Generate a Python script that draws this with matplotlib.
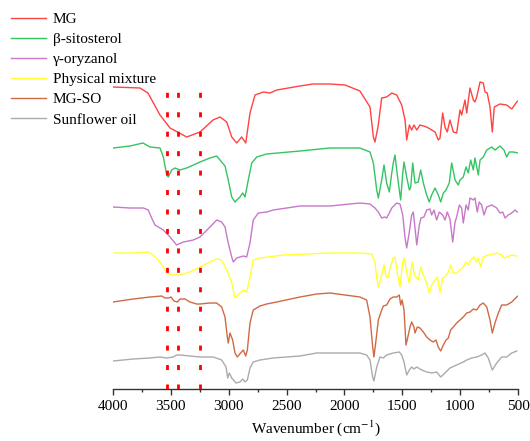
import matplotlib
matplotlib.use("Agg")
import matplotlib.pyplot as plt
from matplotlib.ticker import MultipleLocator

plt.rcParams['font.family'] = ['Liberation Serif', 'DejaVu Serif']
plt.rcParams['mathtext.fontset'] = 'stix'

# Stacked FTIR spectra (transmittance, vertically offset, arbitrary units)
mg_wn = [4000, 3767, 3698, 3594, 3507, 3363, 3248, 3136, 3075, 3017, 2974, 2931, 2888, 2853,
         2816, 2773, 2701, 2643, 2585, 2384, 2272, 2125, 1995, 1866, 1779, 1750, 1736, 1710,
         1678, 1635, 1591, 1548, 1505, 1476, 1462, 1439, 1419, 1399, 1375, 1347, 1289, 1246,
         1217, 1189, 1174, 1151, 1131, 1111, 1088, 1059, 1030, 1001, 987, 958, 943, 915, 886,
         872, 857, 828, 800, 785, 766, 742, 722, 705, 656, 598, 554, 511, 500]
mg_t = [302, 301, 296, 274, 261, 252, 257, 269, 272, 267, 252, 246, 252, 246,
        276, 294, 297, 296, 299, 303, 305, 305, 304, 298, 282, 252, 247, 262,
        291, 292, 296, 294, 284, 269, 249, 264, 259, 264, 259, 264, 262, 259,
        257, 249, 251, 276, 262, 257, 269, 257, 256, 279, 274, 289, 276, 301, 289,
        287, 292, 307, 306, 297, 296, 282, 257, 282, 285, 284, 280, 287, 288]

sito_wn = [4000, 3853, 3741, 3680, 3594, 3565, 3536, 3522, 3493, 3464, 3421, 3363, 3248, 3162,
           3104, 3075, 3032, 3004, 2974, 2946, 2903, 2879, 2859, 2831, 2801, 2758, 2672, 2384,
           2125, 1866, 1779, 1750, 1721, 1707, 1678, 1658, 1635, 1612, 1591, 1578, 1563, 1548,
           1526, 1514, 1496, 1485, 1462, 1439, 1427, 1410, 1390, 1362, 1341, 1318, 1289, 1267,
           1246, 1217, 1189, 1168, 1145, 1122, 1094, 1073, 1044, 1016, 1001, 973, 949, 930,
           909, 886, 872, 843, 828, 800, 770, 727, 699, 656, 621, 598, 575, 541, 500]
sito_t = [241, 243, 246, 242, 241, 232, 214, 212, 219, 221, 219, 221, 227, 231,
          233, 229, 223, 209, 192, 187, 192, 196, 192, 209, 226, 232, 235, 238,
          241, 241, 237, 226, 199, 191, 209, 224, 206, 197, 216, 226, 234, 219,
          199, 189, 216, 227, 212, 199, 202, 226, 206, 207, 219, 206, 194, 187,
          194, 201, 194, 187, 196, 199, 206, 226, 209, 204, 209, 212, 222, 216,
          229, 219, 231, 214, 229, 232, 239, 242, 239, 243, 239, 232, 237, 237, 236]

oryz_wn = [4000, 3853, 3738, 3695, 3666, 3637, 3565, 3507, 3450, 3392, 3306, 3248, 3162, 3104,
           3061, 3032, 3004, 2974, 2960, 2931, 2903, 2874, 2845, 2816, 2788, 2744, 2672, 2615,
           2499, 2384, 2125, 1866, 1779, 1736, 1707, 1678, 1650, 1635, 1612, 1591, 1548, 1520,
           1496, 1476, 1462, 1439, 1419, 1405, 1390, 1375, 1353, 1338, 1313, 1289, 1261, 1246,
           1226, 1203, 1180, 1151, 1131, 1111, 1088, 1064, 1044, 1030, 1007, 987, 973, 949,
           930, 915, 886, 872, 852, 835, 814, 794, 770, 727, 684, 656, 632, 612, 584, 554,
           526, 506]
oryz_t = [182, 181, 181, 179, 171, 164, 159, 152, 144, 147, 149, 152, 162, 169,
          167, 162, 146, 132, 127, 131, 132, 133, 132, 146, 169, 176, 177, 179,
          181, 183, 183, 186, 185, 181, 177, 171, 172, 171, 176, 181, 186, 185,
          174, 151, 141, 157, 174, 177, 161, 144, 164, 171, 172, 179, 180, 174,
          179, 169, 177, 174, 169, 177, 170, 147, 167, 172, 184, 181, 166, 184,
          179, 191, 189, 191, 177, 187, 184, 174, 182, 184, 181, 176, 177, 171, 174, 176,
          179, 177]

mix_wn = [4000, 3825, 3695, 3652, 3609, 3565, 3536, 3493, 3421, 3335, 3248, 3162, 3104, 3061,
          3017, 2989, 2974, 2946, 2903, 2874, 2845, 2816, 2788, 2730, 2528, 2125, 1866, 1764,
          1736, 1721, 1707, 1678, 1658, 1641, 1621, 1606, 1578, 1563, 1543, 1520, 1496, 1483,
          1462, 1439, 1427, 1413, 1396, 1362, 1341, 1318, 1289, 1267, 1246, 1217, 1197, 1174,
          1151, 1131, 1102, 1082, 1059, 1030, 1001, 973, 949, 930, 909, 880, 857, 843, 822,
          800, 757, 713, 684, 641, 621, 598, 554, 511]
mix_t = [136, 136, 137, 134, 129, 122, 116, 114, 114, 117, 122, 127, 130, 129,
         119, 111, 106, 91, 96, 99, 97, 112, 129, 131, 134, 136, 136, 135,
         127, 111, 102, 114, 124, 112, 112, 121, 131, 132, 116, 102, 127, 131,
         117, 106, 117, 127, 114, 109, 122, 114, 106, 96, 104, 109, 112, 97,
         111, 112, 117, 124, 116, 116, 119, 122, 127, 124, 129, 132, 127, 131, 122,
         132, 134, 135, 136, 134, 131, 132, 134, 133]

mgso_wn = [4000, 3825, 3680, 3579, 3551, 3522, 3499, 3473, 3444, 3421, 3378, 3335, 3277, 3248,
           3162, 3104, 3061, 3032, 3012, 3004, 2989, 2966, 2946, 2926, 2897, 2874, 2853, 2839,
           2816, 2788, 2730, 2672, 2585, 2384, 2240, 2125, 1866, 1808, 1779, 1756, 1745, 1727,
           1707, 1678, 1664, 1635, 1606, 1578, 1548, 1526, 1514, 1502, 1485, 1468, 1448, 1433,
           1419, 1399, 1390, 1370, 1347, 1318, 1289, 1261, 1232, 1209, 1189, 1168, 1145, 1122,
           1102, 1082, 1059, 1030, 1001, 973, 943, 915, 886, 857, 828, 800, 770, 742, 722,
           699, 670, 641, 598, 554, 511, 500]
mgso_t = [87, 90, 92, 93, 91, 91, 92, 88, 87, 90, 90, 87, 85, 85,
          86, 86, 82, 72, 52, 46, 56, 49, 36, 32, 36, 39, 33, 39,
          66, 79, 83, 85, 87, 92, 95, 96, 92, 89, 72, 42, 32, 49,
          69, 79, 83, 84, 90, 92, 92, 94, 84, 89, 79, 44, 54, 62,
          67, 62, 56, 62, 61, 57, 52, 49, 47, 49, 42, 38, 44, 49,
          51, 59, 62, 66, 69, 72, 76, 77, 80, 79, 84, 86, 82, 69, 56,
          66, 76, 84, 84, 87, 92, 93]

oil_wn = [4000, 3825, 3680, 3594, 3536, 3479, 3450, 3421, 3335, 3248, 3133, 3061, 3023, 3009,
          2995, 2974, 2937, 2903, 2879, 2859, 2839, 2816, 2788, 2730, 2615, 2384, 2240, 2125,
          1866, 1808, 1779, 1756, 1745, 1721, 1693, 1664, 1635, 1578, 1526, 1505, 1485, 1462,
          1439, 1419, 1399, 1375, 1332, 1289, 1246, 1203, 1168, 1131, 1088, 1030, 973, 943,
          900, 857, 814, 785, 757, 722, 684, 641, 598, 554, 511]
oil_t = [28, 30, 31, 32, 31, 32, 34, 34, 33, 32, 32, 29, 22, 11,
         16, 11, 6, 7, 10, 7, 9, 21, 27, 29, 31, 33, 36, 36,
         36, 34, 29, 12, 8, 22, 32, 31, 34, 36, 37, 34, 27, 14,
         19, 22, 20, 22, 19, 17, 16, 17, 12, 16, 21, 24, 27, 29,
         31, 32, 34, 36, 31, 19, 26, 32, 32, 36, 38]

series = [
    ("MG", mg_wn, mg_t, "#ff4343"),
    ("\u03b2-sitosterol", sito_wn, sito_t, "#35c463"),
    ("\u03b3-oryzanol", oryz_wn, oryz_t, "#c878c8"),
    ("Physical mixture", mix_wn, mix_t, "#ffff33"),
    ("MG-SO", mgso_wn, mgso_t, "#d06a45"),
    ("Sunflower oil", oil_wn, oil_t, "#ababab"),
]

# O-H stretching positions marked with dotted guides
guide_wn = [3530, 3440, 3245]
guide_top = 306

fig = plt.figure(figsize=(5.30, 4.41), dpi=100)
ax = fig.add_axes([113 / 530, 52 / 441, 405 / 530, 389 / 441])

for label, wn, t, color in series:
    ax.plot(wn, t, color=color, lw=1.0, label=label)

for g in guide_wn:
    ax.plot([g, g], [0, guide_top], color="#ff0000", lw=2.0,
            linestyle=(0, (1.8, 5.2)), zorder=5)

ax.set_xlim(4000, 500)
ax.set_ylim(0, 389)
ax.xaxis.set_major_locator(MultipleLocator(500))
ax.xaxis.set_minor_locator(MultipleLocator(250))
ax.tick_params(axis="x", which="major", direction="out", length=4, width=1,
               labelsize=11, pad=4, color="#333333")
ax.tick_params(axis="x", which="minor", direction="out", length=2.5, width=1,
               color="#333333")
ax.set_yticks([])
for side in ("top", "left", "right"):
    ax.spines[side].set_visible(False)
ax.spines["bottom"].set_color("#333333")
ax.spines["bottom"].set_linewidth(1.0)
ax.set_xlabel("Wavenumber (cm$^{-1}$)", fontsize=11, labelpad=4)

ax.legend(loc="upper left", bbox_to_anchor=(0.004, 0.993), bbox_transform=fig.transFigure,
          frameon=False, fontsize=11, handlelength=2.3, handletextpad=0.4,
          labelspacing=0.42, borderaxespad=0.0, borderpad=0.6)

fig.savefig("out.png", dpi=100)
